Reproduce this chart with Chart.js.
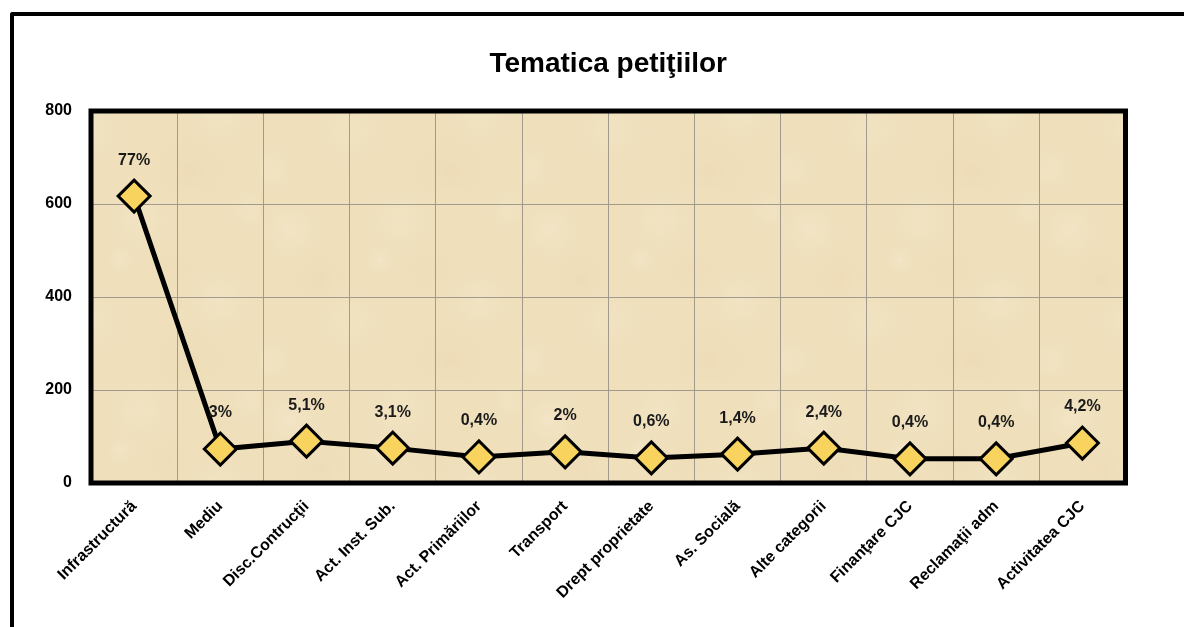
<!DOCTYPE html>
<html>
<head>
<meta charset="utf-8">
<script src="https://cdn.jsdelivr.net/npm/chart.js@4.4.1/dist/chart.umd.min.js"></script>
<style>
  html, body { margin: 0; padding: 0; background: #ffffff; overflow: hidden; }
  #wrap { position: relative; width: 1184px; height: 627px; }
  #frame { position: absolute; left: 10px; top: 12px; width: 1200px; height: 700px;
           border-left: 4px solid #000; border-top: 4px solid #000; border-top-left-radius: 3px; box-sizing: border-box; }
  #c { position: absolute; left: 0; top: 0; }
</style>
</head>
<body>
<div id="wrap">
  <div id="frame"></div>
  <canvas id="c" width="1184" height="627"></canvas>
</div>
<script>
const categories = ['Infrastructură', 'Mediu', 'Disc.Contrucţii', 'Act. Inst. Sub.', 'Act. Primăriilor', 'Transport',
                    'Drept proprietate', 'As. Socială', 'Alte categorii', 'Finanţare CJC', 'Reclamaţii adm', 'Activitatea CJC'];
const values = [617, 73, 90, 75, 56, 67, 54, 62, 75, 52, 52, 86];
const percentLabels = ['77%', '3%', '5,1%', '3,1%', '0,4%', '2%', '0,6%', '1,4%', '2,4%', '0,4%', '0,4%', '4,2%'];
const yTicks = [0, 200, 400, 600, 800];

const FONT = '"Liberation Sans", Arial, sans-serif';

// parchment-like texture pattern (decorative)
function makeTexture() {
  const t = document.createElement('canvas');
  t.width = 260; t.height = 190;
  const g = t.getContext('2d');
  g.fillStyle = '#efdfbb';
  g.fillRect(0, 0, t.width, t.height);
  const blobs = [
    [30, 40, 45, 'rgba(247,238,216,0.35)'], [140, 30, 55, 'rgba(246,236,212,0.3)'],
    [220, 110, 50, 'rgba(247,238,216,0.3)'], [90, 130, 60, 'rgba(245,234,208,0.3)'],
    [190, 170, 40, 'rgba(228,208,166,0.25)'], [60, 90, 30, 'rgba(230,210,168,0.25)'],
    [170, 80, 25, 'rgba(232,212,170,0.22)'], [250, 20, 35, 'rgba(246,236,212,0.3)'],
    [10, 170, 40, 'rgba(246,236,212,0.3)'], [120, 70, 20, 'rgba(249,242,224,0.3)']
  ];
  blobs.forEach(([x, y, r, c]) => {
    const rg = g.createRadialGradient(x, y, 0, x, y, r);
    rg.addColorStop(0, c);
    rg.addColorStop(1, 'rgba(239,223,187,0)');
    g.fillStyle = rg;
    g.beginPath(); g.arc(x, y, r, 0, Math.PI * 2); g.fill();
  });
  return t;
}

const plotDecor = {
  id: 'plotDecor',
  beforeDraw(chart) {
    const { ctx, chartArea: a } = chart;
    ctx.save();
    ctx.fillStyle = ctx.createPattern(makeTexture(), 'repeat');
    ctx.fillRect(a.left, a.top, a.right - a.left, a.bottom - a.top);
    ctx.restore();
  },
  beforeDatasetsDraw(chart) {
    const { ctx, chartArea: a } = chart;
    ctx.save();
    ctx.strokeStyle = '#000';
    ctx.lineWidth = 5;
    ctx.strokeRect(a.left, a.top, a.right - a.left, a.bottom - a.top);
    ctx.restore();
  },
  afterDatasetsDraw(chart) {
    const { ctx } = chart;
    const meta = chart.getDatasetMeta(0);
    ctx.save();
    ctx.font = 'bold 16px ' + FONT;
    ctx.fillStyle = '#1a1a1a';
    ctx.textAlign = 'center';
    ctx.textBaseline = 'middle';
    meta.data.forEach((pt, i) => {
      ctx.fillText(percentLabels[i], pt.x, pt.y - 36);
    });
    ctx.restore();
  }
};

new Chart(document.getElementById('c'), {
  type: 'line',
  data: {
    labels: categories,
    datasets: [{
      data: values,
      borderColor: '#000',
      borderWidth: 5,
      tension: 0,
      pointStyle: 'rectRot',
      pointRadius: 16,
      pointHoverRadius: 16,
      pointBackgroundColor: '#f8d35e',
      pointBorderColor: '#000',
      pointBorderWidth: 3
    }]
  },
  options: {
    responsive: false,
    animation: false,
    events: [],
    layout: { padding: { left: 0, right: 58.5, top: 0, bottom: 0 } },
    plugins: {
      legend: { display: false },
      tooltip: { enabled: false },
      title: {
        display: true,
        text: 'Tematica petiţiilor',
        fullSize: false,
        color: '#000',
        font: { family: FONT, size: 28, weight: 'bold', lineHeight: 1.2 },
        padding: { top: 47.5, bottom: 29.9 }
      }
    },
    scales: {
      x: {
        type: 'category',
        offset: true,
        grid: { display: true, offset: true, color: '#a39a8e', lineWidth: 1, drawTicks: false },
        border: { display: false },
        ticks: {
          color: '#000',
          font: { family: FONT, size: 16, weight: 'bold' },
          minRotation: 45, maxRotation: 45,
          padding: 14,
          autoSkip: false
        },
        afterFit(scale) { scale.height = 144; }
      },
      y: {
        min: 0, max: 800,
        afterBuildTicks(scale) { scale.ticks = yTicks.map(v => ({ value: v })); },
        grid: { color: '#a39a8e', lineWidth: 1, drawTicks: false },
        border: { display: false },
        ticks: {
          color: '#000',
          font: { family: FONT, size: 16, weight: 'bold' },
          padding: 19
        },
        afterFit(scale) { scale.width = 91; }
      }
    }
  },
  plugins: [plotDecor]
});
</script>
</body>
</html>
